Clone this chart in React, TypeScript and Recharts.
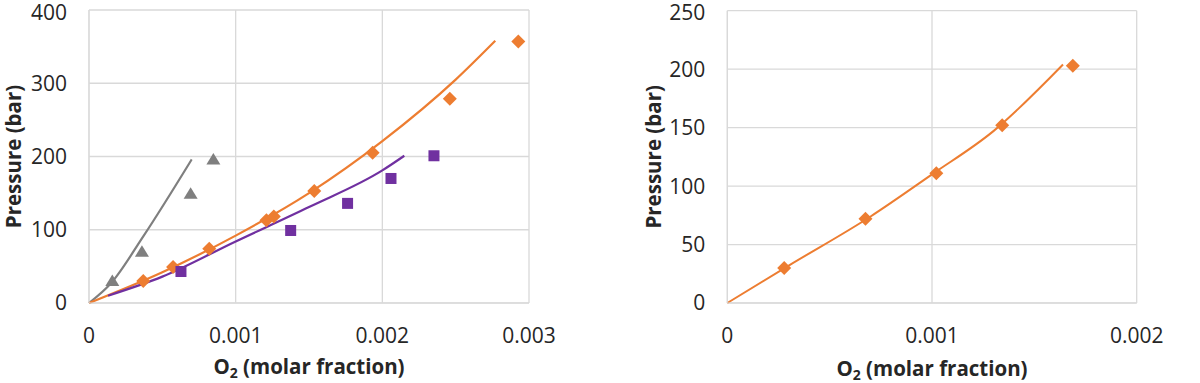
import React from 'react';
import {
  ComposedChart,
  Line,
  Scatter,
  XAxis,
  YAxis,
  CartesianGrid,
} from 'recharts';

// left panel: measured points
const leftTriangles = [
  { x: 0.000159, y: 30 },
  { x: 0.000361, y: 70 },
  { x: 0.000693, y: 149 },
  { x: 0.000848, y: 196 },
];
const leftDiamonds = [
  { x: 0.00037, y: 30 },
  { x: 0.000573, y: 49 },
  { x: 0.00082, y: 74 },
  { x: 0.00121, y: 113 },
  { x: 0.00126, y: 118 },
  { x: 0.001536, y: 153 },
  { x: 0.001934, y: 205 },
  { x: 0.00246, y: 279 },
  { x: 0.002927, y: 357 },
];
const leftSquares = [
  { x: 0.000627, y: 43 },
  { x: 0.001375, y: 99 },
  { x: 0.001763, y: 136 },
  { x: 0.002059, y: 170 },
  { x: 0.002352, y: 201 },
];

// left panel: model curves
const grayCurve = [
  { x: 0, y: 0 },
  { x: 0.00015, y: 27 },
  { x: 0.00037, y: 91 },
  { x: 0.0007, y: 196 },
];
const orangeCurve = [
  { x: 0, y: 0 },
  { x: 0.0005, y: 42 },
  { x: 0.001, y: 92 },
  { x: 0.0015, y: 150 },
  { x: 0.002, y: 221 },
  { x: 0.0025, y: 305 },
  { x: 0.00277, y: 358 },
];
const purpleCurve = [
  { x: 0.00013, y: 10 },
  { x: 0.0005, y: 36 },
  { x: 0.001, y: 84 },
  { x: 0.0015, y: 131 },
  { x: 0.002, y: 181 },
  { x: 0.00215, y: 201 },
];

// right panel
const rightDiamonds = [
  { x: 0.000278, y: 30 },
  { x: 0.000675, y: 72 },
  { x: 0.001021, y: 111 },
  { x: 0.001343, y: 152 },
  { x: 0.001688, y: 203 },
];
const rightCurve = [
  { x: 0, y: 0 },
  { x: 0.0003, y: 32 },
  { x: 0.0007, y: 74 },
  { x: 0.001, y: 110 },
  { x: 0.0013, y: 147 },
  { x: 0.00164, y: 204 },
];

const leftXTicks = [0, 0.001, 0.002, 0.003];
const leftYTicks = [0, 100, 200, 300, 400];
const rightXTicks = [0, 0.001, 0.002];
const rightYTicks = [0, 50, 100, 150, 200, 250];

const GRAY = '#7f7f7f';
const ORANGE = '#ed7d31';
const PURPLE = '#7030a0';
const FONT = '"Open Sans", sans-serif';
const tickStyle = { fill: '#262626', fontSize: 21, fontFamily: FONT };

const Diamond = ({ cx, cy }: any) => (
  <path d={`M${cx},${cy - 7} L${cx + 7},${cy} L${cx},${cy + 7} L${cx - 7},${cy} Z`} fill={ORANGE} />
);
const Square = ({ cx, cy }: any) => (
  <rect x={cx - 5.5} y={cy - 5.5} width={11} height={11} fill={PURPLE} />
);
const Triangle = ({ cx, cy }: any) => (
  <path d={`M${cx},${cy - 6.5} L${cx + 7},${cy + 5} L${cx - 7},${cy + 5} Z`} fill={GRAY} />
);

const XTitle = ({ viewBox, y }: any) => (
  <text
    x={viewBox.x + viewBox.width / 2}
    y={y}
    textAnchor="middle"
    fontFamily={FONT}
    fontWeight="bold"
    fontSize={20.5}
    fill="#262626"
  >
    O<tspan dy={4} fontSize={14}>2</tspan>
    <tspan dy={-4}> (molar fraction)</tspan>
  </text>
);

const YTitle = ({ viewBox, x }: any) => {
  const cy = viewBox.y + viewBox.height / 2;
  return (
    <text
      x={x}
      y={cy}
      transform={`rotate(-90 ${x} ${cy})`}
      textAnchor="middle"
      dominantBaseline="central"
      fontFamily={FONT}
      fontWeight="bold"
      fontSize={20.5}
      fill="#262626"
    >
      Pressure (bar)
    </text>
  );
};

const fmt = (v: number) => (v === 0 ? '0' : v.toFixed(3));

export default function App() {
  return (
    <div style={{ position: 'absolute', left: 0, top: 0, width: 1200, height: 383, background: '#fff' }}>
      <div style={{ position: 'absolute', left: 0, top: 0 }}>
        <ComposedChart width={560} height={383} margin={{ top: 10, right: 31, bottom: 0, left: 0 }}>
          <CartesianGrid stroke="#d9d9d9" strokeWidth={1.3} />
          <XAxis
            type="number"
            dataKey="x"
            domain={[0, 0.003]}
            ticks={leftXTicks}
            tickFormatter={fmt}
            height={80}
            stroke="#d9d9d9"
            tickLine={false}
            tickSize={0}
            tickMargin={25}
            tick={tickStyle}
            label={{ content: (p: any) => <XTitle {...p} y={374} /> }}
          />
          <YAxis
            type="number"
            dataKey="y"
            domain={[0, 400]}
            ticks={leftYTicks}
            width={89}
            stroke="#d9d9d9"
            tickLine={false}
            tickSize={0}
            tickMargin={22}
            tick={tickStyle}
            label={{ content: (p: any) => <YTitle {...p} x={13} /> }}
          />
          <Line data={grayCurve} dataKey="y" type="monotone" stroke={GRAY} strokeWidth={2.2} dot={false} isAnimationActive={false} />
          <Line data={orangeCurve} dataKey="y" type="monotone" stroke={ORANGE} strokeWidth={2.2} dot={false} isAnimationActive={false} />
          <Line data={purpleCurve} dataKey="y" type="monotone" stroke={PURPLE} strokeWidth={2.2} dot={false} isAnimationActive={false} />
          <Scatter data={leftTriangles} dataKey="y" shape={Triangle} isAnimationActive={false} />
          <Scatter data={leftDiamonds} dataKey="y" shape={Diamond} isAnimationActive={false} />
          <Scatter data={leftSquares} dataKey="y" shape={Square} isAnimationActive={false} />
        </ComposedChart>
      </div>
      <div style={{ position: 'absolute', left: 640, top: 0 }}>
        <ComposedChart width={560} height={383} margin={{ top: 10.7, right: 63.3, bottom: 0, left: 0 }}>
          <CartesianGrid stroke="#d9d9d9" strokeWidth={1.3} />
          <XAxis
            type="number"
            dataKey="x"
            domain={[0, 0.002]}
            ticks={rightXTicks}
            tickFormatter={fmt}
            height={80}
            stroke="#d9d9d9"
            tickLine={false}
            tickSize={0}
            tickMargin={25}
            tick={tickStyle}
            label={{ content: (p: any) => <XTitle {...p} y={376} /> }}
          />
          <YAxis
            type="number"
            dataKey="y"
            domain={[0, 250]}
            ticks={rightYTicks}
            width={87.3}
            stroke="#d9d9d9"
            tickLine={false}
            tickSize={0}
            tickMargin={22}
            tick={tickStyle}
            label={{ content: (p: any) => <YTitle {...p} x={13} /> }}
          />
          <Line data={rightCurve} dataKey="y" type="monotone" stroke={ORANGE} strokeWidth={2} dot={false} isAnimationActive={false} />
          <Scatter data={rightDiamonds} dataKey="y" shape={Diamond} isAnimationActive={false} />
        </ComposedChart>
      </div>
    </div>
  );
}
